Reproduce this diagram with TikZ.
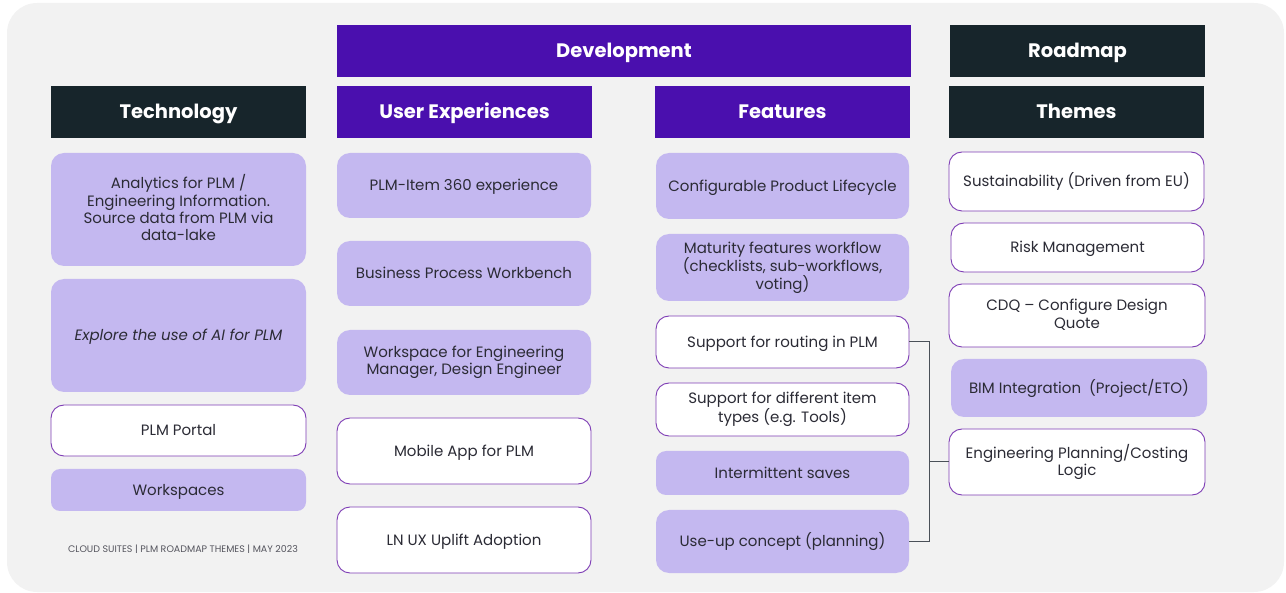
\documentclass[tikz,border=0pt]{standalone}
\usepackage{fontspec}
\setmainfont{Poppins}
\usetikzlibrary{calc}
\definecolor{bgc}{HTML}{F2F2F2}
\definecolor{darkhead}{HTML}{17252B}
\definecolor{purphead}{HTML}{4A0FAE}
\definecolor{lightp}{HTML}{C4B8F0}
\definecolor{borderp}{HTML}{7E3DB5}
\definecolor{txt}{HTML}{2B2B35}
\definecolor{footc}{HTML}{55555E}
\definecolor{connc}{HTML}{4A5058}
\tikzset{
  hdr/.style={inner sep=0pt, outer sep=0pt, text=white, font=\fontsize{19.5}{22}\selectfont\bfseries, minimum height=52pt,
    text height=18.5pt, text depth=4.8pt},
  darkhdr/.style={hdr, fill=darkhead},
  purphdr/.style={hdr, fill=purphead},
  card/.style={inner sep=0pt, outer sep=0pt, rounded corners=13pt, align=center, text=txt, font=\fontsize{15}{17.3}\selectfont,
    execute at begin node={\rule{0pt}{0.95em}}, execute at end node={\rule[-0.25em]{0pt}{0.25em}}},
  fillcard/.style={card, fill=lightp},
  whitecard/.style={card, fill=white, draw=borderp, line width=0.9pt},
  conn/.style={draw=connc, line width=1pt},
}
\begin{document}
\begin{tikzpicture}[x=1pt,y=-1pt]
\useasboundingbox (0,0) rectangle (1286,593);
\fill[bgc, rounded corners=30pt] (7,3) rectangle (1284,592);
% headers
\node[darkhdr, minimum width=255pt] (tech) at (178.5,112) {Technology};
\node[purphdr, minimum width=574pt] (dev) at (624,51) {Development};
\node[purphdr, minimum width=255pt] (ux) at (464.5,112) {User Experiences};
\node[purphdr, minimum width=255pt] (feat) at (782.5,112) {Features};
\node[darkhdr, minimum width=255pt] (road) at (1077.5,51) {Roadmap};
\node[darkhdr, minimum width=255pt] (themes) at (1076.5,112) {Themes};
% technology
\node[fillcard, minimum width=255pt, minimum height=113pt] (t1) at (178.5,209.5) {Analytics for PLM /\\Engineering Information.\\Source data from PLM via\\data-lake};
\node[fillcard, minimum width=255pt, minimum height=113pt] (t2) at (178.5,335.5) {\itshape Explore the use of AI for PLM};
\node[whitecard, minimum width=255pt, minimum height=51pt] (t3) at (178.5,430.5) {PLM Portal};
\node[fillcard, rounded corners=9pt, minimum width=255pt, minimum height=42pt] (t4) at (178.5,490) {Workspaces};
\node[text=footc, font=\fontsize{9.5}{11}\selectfont] (foot) at (183,549) {CLOUD SUITES | PLM ROADMAP THEMES | MAY 2023};
% user experiences
\node[fillcard, minimum width=254pt, minimum height=65pt] (u1) at (464,185.5) {PLM-Item 360 experience};
\node[fillcard, minimum width=254pt, minimum height=65pt] (u2) at (464,273.5) {Business Process Workbench};
\node[fillcard, minimum width=254pt, minimum height=65pt] (u3) at (464,362.5) {Workspace for Engineering\\Manager, Design Engineer};
\node[whitecard, minimum width=254pt, minimum height=66pt] (u4) at (464,451) {Mobile App for PLM};
\node[whitecard, minimum width=254pt, minimum height=66pt] (u5) at (464,540) {LN UX Uplift Adoption};
% features
\node[fillcard, minimum width=253pt, minimum height=66pt] (f1) at (782.5,186) {Configurable Product Lifecycle};
\node[fillcard, minimum width=253pt, minimum height=67pt] (f2) at (782.5,267.5) {Maturity features workflow\\(checklists, sub-workflows,\\voting)};
\node[whitecard, minimum width=253pt, minimum height=52pt] (f3) at (782.5,342) {Support for routing in PLM};
\node[whitecard, minimum width=253pt, minimum height=53pt] (f4) at (782.5,409.5) {Support for different item\\types (e.g. Tools)};
\node[fillcard, rounded corners=10pt, minimum width=253pt, minimum height=44pt] (f5) at (782.5,473) {Intermittent saves};
\node[fillcard, minimum width=253pt, minimum height=63pt] (f6) at (782.5,541.5) {Use-up concept (planning)};
% themes
\node[whitecard, minimum width=255pt, minimum height=59pt] (th1) at (1076.5,181.5) {Sustainability (Driven from EU)};
\node[whitecard, minimum width=253pt, minimum height=49pt] (th2) at (1077.5,247.5) {Risk Management};
\node[whitecard, minimum width=256pt, minimum height=63pt] (th3) at (1077,315.5) {CDQ – Configure Design\\Quote};
\node[fillcard, minimum width=256pt, minimum height=58pt] (th4) at (1079,388) {BIM Integration~ (Project/ETO)};
\node[whitecard, minimum width=256pt, minimum height=66pt] (th5) at (1077,462) {Engineering Planning/Costing\\Logic};
% connectors
\coordinate (jx) at (929.5,342);
\draw[conn] (f3.east) -- (f3.east -| jx) |- (f6.east);
\draw[conn] (th5.west) -- (th5.west -| jx);
\end{tikzpicture}
\end{document}
